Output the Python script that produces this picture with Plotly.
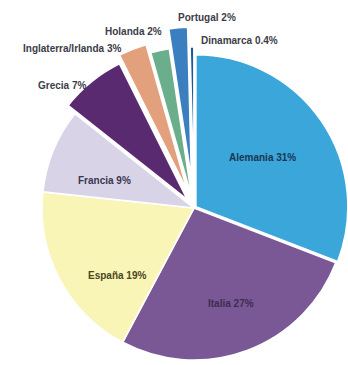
import plotly.graph_objects as go
import math

# ---- data ----
labels = ["Alemania", "Italia", "España", "Francia", "Grecia",
          "Inglaterra/Irlanda", "Holanda", "Portugal", "Dinamarca"]
values = [31, 27, 19, 9, 7, 3, 2, 2, 0.4]
value_text = ["31%", "27%", "19%", "9%", "7%", "3%", "2%", "2%", "0.4%"]

# ---- style ----
colors = ["#3aa6d9", "#7a5896", "#f8f5b6", "#d9d3e8", "#5a2a70",
          "#e2a07c", "#6aae8c", "#3b7fc1", "#1e5799"]
pulls = [0.015, 0.0, 0.0, 0.0, 0.07, 0.12, 0.06, 0.19, 0.06]
# label centres in pixels (text positions)
label_pos = [(262, 157), (231, 303), (117, 275), (104, 180), (62, 85),
             (72, 48), (133, 32), (207, 17), (239, 40)]
label_col = ["#1b3550", "#3e2c50", "#4a4620", "#3a3650", "#3c3c48",
             "#3c3c48", "#3c3c48", "#3c3c48", "#3c3c48"]

W, H = 348, 365
cx, cy, r = 194, 208, 152

total = sum(values)
fig = go.Figure()
cum = 0.0
for i, v in enumerate(values):
    mid = (cum + v / 2) / total * 2 * math.pi
    cum += v
    d = pulls[i] * r
    px = cx + d * math.sin(mid)
    py = cy - d * math.cos(mid)
    x0 = max(0, (px - r) / W)
    x1 = min(1, (px + r) / W)
    y0 = max(0, 1 - (py + r) / H)
    y1 = min(1, 1 - (py - r) / H)
    cols = ["rgba(0,0,0,0)"] * len(values)
    cols[i] = colors[i]
    widths = [0] * len(values)
    widths[i] = 1.6
    fig.add_trace(go.Pie(
        labels=labels, values=values, sort=False, direction="clockwise",
        rotation=0, textinfo="none", hoverinfo="skip",
        marker=dict(colors=cols, line=dict(color="white", width=widths)),
        domain=dict(x=[x0, x1], y=[y0, y1]), showlegend=False,
    ))

for i, lab in enumerate(labels):
    x, y = label_pos[i]
    fig.add_annotation(
        x=x / W, y=1 - y / H, xref="paper", yref="paper",
        text=f"{lab} {value_text[i]}", showarrow=False,
        font=dict(family="Liberation Sans", size=10, color=label_col[i], weight="bold"),
        xanchor="center", yanchor="middle",
    )

fig.update_layout(
    width=W, height=H, margin=dict(l=0, r=0, t=0, b=0),
    paper_bgcolor="white", plot_bgcolor="white",
)
fig.write_html("out.html")
